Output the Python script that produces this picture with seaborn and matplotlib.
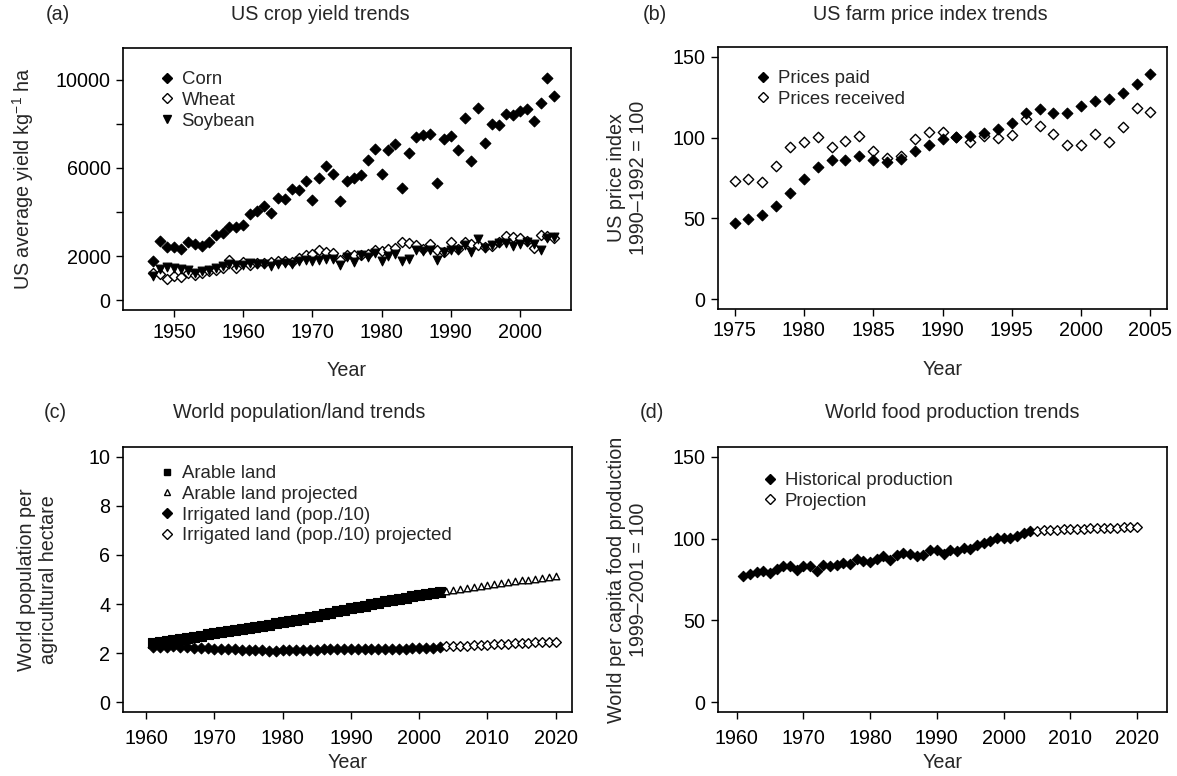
import numpy as np
import pandas as pd
import matplotlib
matplotlib.use("Agg")
import matplotlib.pyplot as plt
import seaborn as sns
from matplotlib.lines import Line2D

# ---------------- data ----------------
years_a = list(range(1947, 2006))
corn = [1795, 2699, 2398, 2398, 2316, 2624, 2555, 2473, 2636, 2975,
        3032, 3314, 3333, 3434, 3917, 4061, 4262, 3948, 4651, 4588,
        5028, 4990, 5392, 4545, 5530, 6089, 5731, 4513, 5423, 5524,
        5699, 6340, 6873, 5712, 6836, 7105, 5091, 6697, 7407, 7495,
        7520, 5310, 7300, 7438, 6817, 8254, 6321, 8700, 7124, 7978,
        7953, 8436, 8399, 8593, 8675, 8116, 8926, 10062, 9284]
wheat = [1224, 1204, 975, 1110, 1076, 1237, 1163, 1217, 1332, 1358,
         1466, 1849, 1453, 1755, 1607, 1681, 1695, 1735, 1782, 1769,
         1735, 1910, 2058, 2085, 2280, 2199, 2125, 1836, 2058, 2038,
         2065, 2112, 2300, 2253, 2320, 2387, 2650, 2609, 2522, 2313,
         2535, 2293, 2199, 2656, 2307, 2643, 2569, 2529, 2408, 2441,
         2656, 2905, 2872, 2825, 2703, 2354, 2972, 2905, 2825]
soybean = [1096, 1432, 1500, 1459, 1399, 1392, 1224, 1345, 1352, 1466,
           1560, 1627, 1580, 1580, 1688, 1627, 1641, 1533, 1648, 1708,
           1648, 1796, 1843, 1796, 1849, 1870, 1870, 1594, 1944, 1755,
           2058, 1977, 2159, 1782, 2024, 2118, 1762, 1890, 2293, 2239,
           2280, 1816, 2172, 2293, 2300, 2529, 2192, 2784, 2374, 2529,
           2616, 2616, 2461, 2562, 2663, 2556, 2280, 2838, 2892]

years_b = list(range(1975, 2006))
prices_paid = [47.2, 49.7, 52.4, 57.9, 65.7, 74.5, 81.7, 86.2, 86.2, 88.7,
               86.2, 84.8, 86.9, 91.6, 95.7, 99.2, 100.2, 101.2, 102.7, 105.3,
               109.2, 115.2, 117.8, 115.2, 115.2, 119.5, 122.9, 123.9, 127.3, 133.4,
               139.6]
prices_received = [72.9, 74.5, 72.7, 82.5, 94.0, 97.5, 100.2, 94.0, 97.7, 101.0,
                   91.6, 87.1, 88.3, 99.2, 103.7, 103.7, 100.2, 97.5, 101.0, 100.0,
                   101.8, 111.5, 107.2, 102.0, 95.7, 95.7, 102.0, 97.5, 106.8, 118.5,
                   115.6]

years_c_hist = list(range(1961, 2004))
years_c_proj = list(range(2004, 2021))
arable = [2.42, 2.45, 2.49, 2.53, 2.58, 2.62, 2.67, 2.71, 2.76, 2.80,
          2.85, 2.89, 2.94, 2.98, 3.03, 3.07, 3.11, 3.16, 3.21, 3.26,
          3.31, 3.36, 3.41, 3.46, 3.52, 3.58, 3.64, 3.70, 3.76, 3.82,
          3.88, 3.94, 4.00, 4.06, 4.11, 4.16, 4.21, 4.26, 4.31, 4.35,
          4.40, 4.44, 4.48]
arable_proj = [4.52, 4.56, 4.60, 4.64, 4.68, 4.72, 4.76, 4.80, 4.84, 4.88,
               4.92, 4.96, 5.00, 5.04, 5.08, 5.12, 5.16]
irrigated = [2.25, 2.24, 2.26, 2.27, 2.25, 2.24, 2.22, 2.20, 2.19, 2.18,
             2.17, 2.16, 2.15, 2.14, 2.13, 2.12, 2.11, 2.10, 2.10, 2.11,
             2.12, 2.12, 2.13, 2.13, 2.14, 2.15, 2.15, 2.16, 2.16, 2.17,
             2.17, 2.16, 2.16, 2.16, 2.17, 2.17, 2.17, 2.18, 2.19, 2.20,
             2.21, 2.22, 2.23]
irrigated_proj = [2.27, 2.28, 2.30, 2.31, 2.32, 2.34, 2.35, 2.36, 2.37, 2.39,
                  2.40, 2.41, 2.42, 2.44, 2.45, 2.46, 2.47]

years_d_hist = list(range(1961, 2005))
years_d_proj = list(range(2005, 2021))
food_hist = [77.2, 78.2, 79.3, 80.3, 78.9, 81.3, 83.0, 83.0, 80.9, 83.0,
             83.0, 79.9, 84.0, 83.0, 84.0, 85.0, 84.6, 87.5, 86.4, 85.4,
             87.5, 89.5, 86.7, 90.1, 91.2, 90.8, 89.5, 90.1, 92.8, 92.8,
             90.8, 92.8, 92.2, 94.3, 93.6, 96.3, 97.3, 98.4, 100.4, 100.4,
             100.4, 101.8, 103.5, 104.9]
food_proj = [104.8, 105.0, 105.2, 105.4, 105.6, 105.8, 106.0, 106.1, 106.2, 106.4,
             106.5, 106.6, 106.7, 106.8, 106.9, 107.0]

# ---------------- style ----------------
FS = 14.2
LFS = 13.4
sns.set_style("ticks")
plt.rcParams['font.family'] = ['Liberation Sans', 'DejaVu Sans']
plt.rcParams['axes.linewidth'] = 1.2
plt.rcParams['xtick.major.width'] = 1.0
plt.rcParams['ytick.major.width'] = 1.0
plt.rcParams['xtick.major.size'] = 5
plt.rcParams['ytick.major.size'] = 5
plt.rcParams['xtick.labelsize'] = FS
plt.rcParams['ytick.labelsize'] = FS
plt.rcParams['axes.labelsize'] = FS
plt.rcParams['xtick.color'] = 'black'
plt.rcParams['ytick.color'] = 'black'
plt.rcParams['axes.edgecolor'] = 'black'
plt.rcParams['mathtext.fontset'] = 'custom'
plt.rcParams['mathtext.rm'] = 'Liberation Sans'

W, H = 1177, 776
fig = plt.figure(figsize=(W / 100, H / 100), dpi=100)


def make_ax(l, t, r, b):
    return fig.add_axes([l / W, 1 - b / H, (r - l) / W, (b - t) / H])


ax_a = make_ax(123, 48, 571, 310)
ax_b = make_ax(718, 47, 1167, 309)
ax_c = make_ax(123, 447, 572, 712)
ax_d = make_ax(718, 447, 1167, 712)

FILL = dict(color='black', edgecolor='black', linewidth=0.8)
OPEN = dict(color='white', edgecolor='black', linewidth=1.0)


def pts(ax, x, y, marker, s, style, label):
    sns.scatterplot(x=x, y=y, ax=ax, marker=marker, s=s, label=label,
                    zorder=3, legend=False, **style)


def handle(marker, ms, filled):
    return Line2D([], [], linestyle='none', marker=marker, markersize=ms,
                  markerfacecolor='black' if filled else 'white',
                  markeredgecolor='black', markeredgewidth=1.0)


def legend(ax, handles, labels, mx, ty):
    # mx: marker centre x (px), ty: top of legend (px)
    hl = 0.8
    fpx = LFS * 100 / 72
    x0 = mx - hl * fpx / 2
    ax.legend(handles, labels, loc='upper left', frameon=False, fontsize=LFS,
              handletextpad=0.38, labelspacing=0.2, borderaxespad=0, borderpad=0,
              handlelength=hl, bbox_to_anchor=(x0 / W, 1 - ty / H),
              bbox_transform=fig.transFigure)

# (a)
pts(ax_a, years_a, wheat, 'D', 26, OPEN, 'Wheat')
pts(ax_a, years_a, soybean, 'v', 40, FILL, 'Soybean')
pts(ax_a, years_a, corn, 'D', 30, FILL, 'Corn')
ax_a.set_xlim(1942.6, 2007.4)
ax_a.set_ylim(-440, 11440)
ax_a.set_xticks([1950, 1960, 1970, 1980, 1990, 2000])
ax_a.set_yticks([0, 2000, 4000, 6000, 8000, 10000])
ax_a.set_yticklabels(['0', '2000', '', '6000', '', '10000'])
ax_a.set_xlabel('Year', labelpad=14)
ax_a.set_ylabel('US average yield kg$^{-1}$ ha', labelpad=14)
legend(ax_a, [handle('D', 5, True), handle('D', 5, False), handle('v', 6, True)],
       ['Corn', 'Wheat', 'Soybean'], 167, 71)

# (b)
pts(ax_b, years_b, prices_received, 'D', 28, OPEN, 'Prices received')
pts(ax_b, years_b, prices_paid, 'D', 30, FILL, 'Prices paid')
ax_b.set_xlim(1973.8, 2006.2)
ax_b.set_ylim(-6, 156)
ax_b.set_xticks([1975, 1980, 1985, 1990, 1995, 2000, 2005])
ax_b.set_yticks([0, 50, 100, 150])
ax_b.set_xlabel('Year', labelpad=14)
ax_b.set_ylabel('US price index\n1990\u20131992 = 100', labelpad=18)
legend(ax_b, [handle('D', 5, True), handle('D', 5, False)],
       ['Prices paid', 'Prices received'], 763, 70)

# (c)
pts(ax_c, years_c_hist, arable, 's', 55, FILL, 'Arable land')
pts(ax_c, years_c_proj, arable_proj, '^', 22, OPEN, 'Arable land projected')
pts(ax_c, years_c_hist, irrigated, 'D', 30, FILL, 'Irrigated land (pop./10)')
pts(ax_c, years_c_proj, irrigated_proj, 'D', 24, OPEN, 'Irrigated land (pop./10) projected')
ax_c.set_xlim(1956.6, 2022.4)
ax_c.set_ylim(-0.4, 10.4)
ax_c.set_xticks([1960, 1970, 1980, 1990, 2000, 2010, 2020])
ax_c.set_yticks([0, 2, 4, 6, 8, 10])
ax_c.set_xlabel('Year', labelpad=4)
ax_c.set_ylabel('World population per\nagricultural hectare', labelpad=22)
legend(ax_c, [handle('s', 5, True), handle('^', 5, False), handle('D', 5, True),
              handle('D', 5, False)],
       ['Arable land', 'Arable land projected', 'Irrigated land (pop./10)',
        'Irrigated land (pop./10) projected'], 167, 465)

# (d)
pts(ax_d, years_d_hist, food_hist, 'D', 28, FILL, 'Historical production')
pts(ax_d, years_d_proj, food_proj, 'D', 24, OPEN, 'Projection')
ax_d.set_xlim(1957.2, 2024.5)
ax_d.set_ylim(-6, 156)
ax_d.set_xticks([1960, 1970, 1980, 1990, 2000, 2010, 2020])
ax_d.set_yticks([0, 50, 100, 150])
ax_d.set_xlabel('Year', labelpad=4)
ax_d.set_ylabel('World per capita food production\n1999\u20132001 = 100', labelpad=18)
legend(ax_d, [handle('D', 5, True), handle('D', 5, False)],
       ['Historical production', 'Projection'], 770, 472)

for ax in (ax_a, ax_b, ax_c, ax_d):
    for sp in ax.spines.values():
        sp.set_visible(True)
        sp.set_color('black')
    ax.tick_params(direction='out', pad=4)
ax_c.tick_params(axis='x', pad=7)
ax_d.tick_params(axis='x', pad=7)

# titles and panel letters (pixel positions)
for title, tx, letter, lx, ty in (('US crop yield trends', 320, '(a)', 58, 14),
                                  ('US farm price index trends', 930, '(b)', 655, 14),
                                  ('World population/land trends', 299, '(c)', 55, 413),
                                  ('World food production trends', 952, '(d)', 652, 413)):
    fig.text(tx / W, 1 - ty / H, title, ha='center', va='center', fontsize=FS)
    fig.text(lx / W, 1 - ty / H, letter, ha='center', va='center', fontsize=FS)

fig.savefig('out.png', dpi=100)
